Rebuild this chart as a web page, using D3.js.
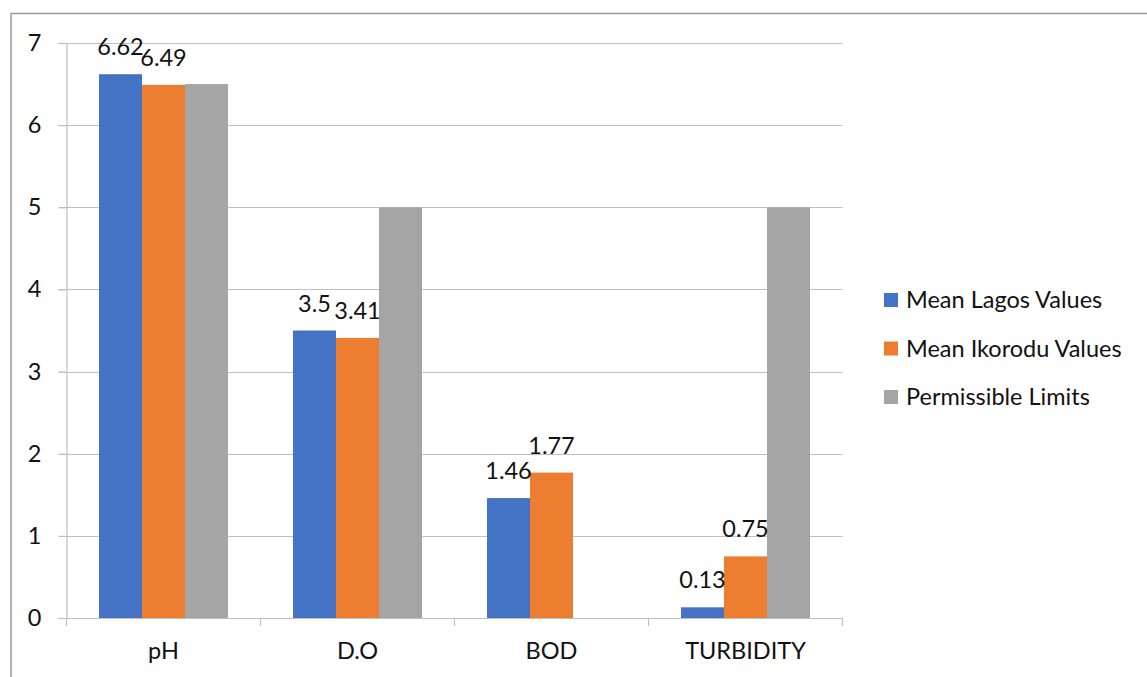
<!DOCTYPE html>
<html>
<head>
<meta charset="utf-8">
<script src="https://cdn.jsdelivr.net/npm/d3@7"></script>
<style>
  html, body { margin: 0; padding: 0; background: #fff; }
  svg { display: block; font-family: Lato, "Open Sans", "Liberation Sans", sans-serif; }
</style>
</head>
<body>
<svg id="chart" width="1147" height="677"></svg>
<script>
// Water quality parameters
const categories = ["pH", "D.O", "BOD", "TURBIDITY"];
const seriesNames = ["Mean Lagos Values", "Mean Ikorodu Values", "Permissible Limits"];
const lagosValues = [6.62, 3.5, 1.46, 0.13];
const ikoroduValues = [6.49, 3.41, 1.77, 0.75];
const permissibleLimits = [6.5, 5, null, 5];
const yTicks = [0, 1, 2, 3, 4, 5, 6, 7];
const colors = ["#4472C4", "#ED7D31", "#A5A5A5"];

const series = [lagosValues, ikoroduValues, permissibleLimits];
const labelled = [true, true, false];
const fontSize = 23.5;
const fontFamily = "Lato, 'Open Sans', sans-serif";

const svg = d3.select("#chart");

// Outer frame (top and left edges)
svg.append("line").attr("x1", 11).attr("y1", 13.5).attr("x2", 1147).attr("y2", 13.5)
  .attr("stroke", "#9a9a9a").attr("stroke-width", 1.5);
svg.append("line").attr("x1", 11).attr("y1", 13).attr("x2", 11).attr("y2", 677)
  .attr("stroke", "#9a9a9a").attr("stroke-width", 1.5);

const plot = { left: 66.5, right: 842.5, top: 43, bottom: 618 };

const x = d3.scaleBand().domain(categories).range([plot.left, plot.right]).paddingInner(0).paddingOuter(0);
const groupWidth = x.bandwidth() * 0.665;
const xs = d3.scaleBand().domain(d3.range(series.length)).range([0, groupWidth]);
const y = d3.scaleLinear().domain([0, 7]).range([plot.bottom, plot.top]);

// Horizontal gridlines
svg.append("g").selectAll("line").data(yTicks.filter(t => t > 0)).join("line")
  .attr("x1", plot.left - 8).attr("x2", plot.right)
  .attr("y1", d => Math.round(y(d)) + 0.5).attr("y2", d => Math.round(y(d)) + 0.5)
  .attr("stroke", "#bfbfbf").attr("stroke-width", 1.2);

// Bars
const groups = svg.append("g").selectAll("g").data(categories).join("g")
  .attr("transform", d => `translate(${x(d) + (x.bandwidth() - groupWidth) / 2},0)`);

series.forEach((vals, si) => {
  groups.filter((d, i) => vals[i] != null).append("rect")
    .attr("x", xs(si))
    .attr("width", xs.bandwidth())
    .attr("y", (d) => y(vals[categories.indexOf(d)]))
    .attr("height", (d) => y(0) - y(vals[categories.indexOf(d)]))
    .attr("fill", colors[si]);
});

// Value labels
series.forEach((vals, si) => {
  if (!labelled[si]) return;
  groups.filter((d, i) => vals[i] != null).append("text")
    .attr("x", xs(si) + xs.bandwidth() / 2)
    .attr("y", d => y(vals[categories.indexOf(d)]) - 19)
    .attr("text-anchor", "middle")
    .attr("font-size", fontSize)
    .attr("fill", "#111")
    .text(d => vals[categories.indexOf(d)]);
});

// Y axis
const yAxis = svg.append("g").attr("transform", `translate(${plot.left},0)`)
  .call(d3.axisLeft(y).tickValues(yTicks).tickSize(8).tickFormat(d3.format("d")));
yAxis.select(".domain").attr("stroke", "#bfbfbf").attr("stroke-width", 1.2);
yAxis.selectAll(".tick line").attr("stroke", "#bfbfbf").attr("stroke-width", 1.2);
yAxis.selectAll(".tick text").attr("font-size", fontSize).attr("fill", "#111")
  .attr("x", -25).attr("font-family", fontFamily);

// X axis
const xAxis = svg.append("g").attr("transform", `translate(0,${plot.bottom})`)
  .call(d3.axisBottom(x).tickSize(0).tickPadding(24));
xAxis.select(".domain").attr("stroke", "#bfbfbf").attr("stroke-width", 1.2);
xAxis.selectAll(".tick text").attr("font-size", fontSize).attr("fill", "#111")
  .attr("font-family", fontFamily);
// Category boundary ticks
const bounds = categories.map(c => x(c)).concat([x(categories[categories.length - 1]) + x.bandwidth()]);
xAxis.append("g").selectAll("line").data(bounds).join("line")
  .attr("x1", d => d).attr("x2", d => d).attr("y1", 0).attr("y2", 8)
  .attr("stroke", "#bfbfbf").attr("stroke-width", 1.2);

// Legend
const legend = svg.append("g").attr("transform", "translate(884,300)");
const items = legend.selectAll("g").data(seriesNames).join("g")
  .attr("transform", (d, i) => `translate(0,${i * 48.5})`);
items.append("rect").attr("x", 0).attr("y", -7).attr("width", 14).attr("height", 14)
  .attr("fill", (d, i) => colors[i]);
items.append("text").attr("x", 22).attr("y", 0).attr("dy", "0.35em")
  .attr("font-size", fontSize).attr("fill", "#111").text(d => d);
</script>
</body>
</html>
